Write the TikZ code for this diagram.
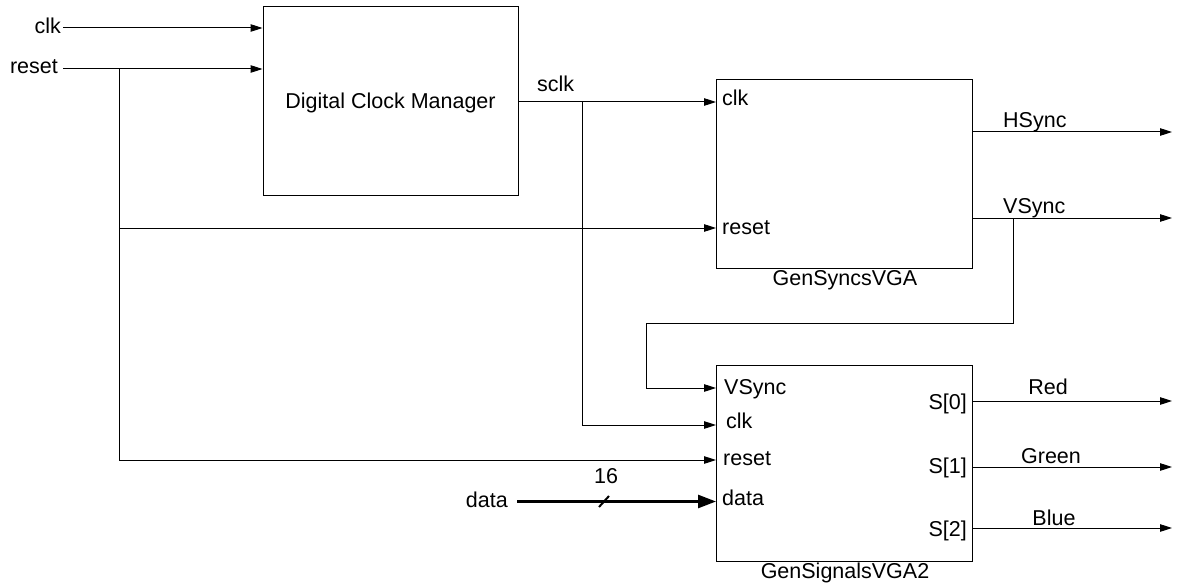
\documentclass[tikz,border=0pt]{standalone}
\usepackage{fontspec}
\setmainfont{Liberation Sans}
\usetikzlibrary{arrows.meta}
\begin{document}
\begin{tikzpicture}[x=1pt,y=-1pt,
  every node/.style={font=\fontsize{21.5}{25}\selectfont, inner sep=0pt},
  block/.style={draw, line width=1pt, rectangle},
  wire/.style={line width=1pt},
  arr/.style={wire, -{Triangle[length=12pt,width=7.5pt]}},
  bus/.style={line width=2.6pt, -{Triangle[length=18pt,width=13pt]}},
  lbl/.style={anchor=base west},
  rlbl/.style={anchor=base east},
  clbl/.style={anchor=base}]
\useasboundingbox (0,0) rectangle (1178,583);

% blocks
\node[block, minimum width=255pt, minimum height=188pt] (dcm) at (390.5,101) {};
\node[anchor=base] (dcmT) at (390.5,108.5) {Digital Clock Manager};
\node[block, minimum width=256pt, minimum height=188pt] (gsync) at (844.5,174) {};
\node[clbl] (gsyncT) at (845,285) {GenSyncsVGA};
\node[block, minimum width=256pt, minimum height=196pt] (gsig) at (844.5,463) {};
\node[clbl] (gsigT) at (845,578) {GenSignalsVGA2};

% port labels
\node[lbl] (ysClkL) at (722,106) {clk};
\node[lbl] (ysRstL) at (722,234) {reset};
\node[lbl] (sgVsL) at (724,394.5) {VSync};
\node[lbl] (sgClkL) at (726,428) {clk};
\node[lbl] (sgRstL) at (723,465.5) {reset};
\node[lbl] (sgDataL) at (722,505) {data};
\node[rlbl] (s0L) at (967,409) {S[0]};
\node[rlbl] (s1L) at (967,473) {S[1]};
\node[rlbl] (s2L) at (967,536) {S[2]};

% external signal labels
\node[rlbl] (clkL) at (61,34) {clk};
\node[rlbl] (rstL) at (58,74) {reset};
\node[lbl] (sclkL) at (537,92) {sclk};
\node[rlbl] (dataL) at (508,507) {data};
\node[clbl] (busW) at (606,483) {16};
\node[lbl] (hsL) at (1003,128) {HSync};
\node[lbl] (vsL) at (1003,213) {VSync};
\node[clbl] (redL) at (1048,394) {Red};
\node[clbl] (greenL) at (1051,463) {Green};
\node[clbl] (blueL) at (1054,525) {Blue};

% ports and junctions
\coordinate (clkS) at (63,28);
\coordinate (rstS) at (63,69);
\coordinate (rstJ) at (119,69);
\coordinate (rstJ2) at (119,228);
\coordinate (sclkS) at (518,102);
\coordinate (sclkJ) at (582,102);
\coordinate (ysClk) at (716,102);
\coordinate (ysRst) at (716,228);
\coordinate (sgVs) at (716,388);
\coordinate (sgClk) at (716,425);
\coordinate (sgRst) at (716,460);
\coordinate (sgData) at (716,501.5);
\coordinate (dataS) at (517,501.5);
\coordinate (hsS) at (973,132);
\coordinate (hsE) at (1172,132);
\coordinate (vsS) at (973,218);
\coordinate (vsE) at (1172,218);
\coordinate (vsJ) at (1013,218);
\coordinate (vsT) at (646,323);
\coordinate (s0S) at (973,401);
\coordinate (s0E) at (1172,401);
\coordinate (s1S) at (973,467);
\coordinate (s1E) at (1172,467);
\coordinate (s2S) at (973,528);
\coordinate (s2E) at (1172,528);

% wiring
\draw[arr] (clkS) -- (clkS -| dcm.west);
\draw[arr] (rstS) -- (rstS -| dcm.west);
\draw[arr] (rstJ) |- (sgRst);
\draw[arr] (rstJ2) -- (ysRst);
\draw[arr] (sclkS) -- (ysClk);
\draw[arr] (sclkJ) |- (sgClk);
\draw[arr] (hsS) -- (hsE);
\draw[arr] (vsS) -- (vsE);
\draw[arr] (vsJ) |- (vsT) |- (sgVs);
\draw[arr] (s0S) -- (s0E);
\draw[arr] (s1S) -- (s1E);
\draw[arr] (s2S) -- (s2E);
\draw[bus] (dataS) -- (sgData);
\draw[line width=2pt] (599,507) -- (609,496);
\end{tikzpicture}
\end{document}
